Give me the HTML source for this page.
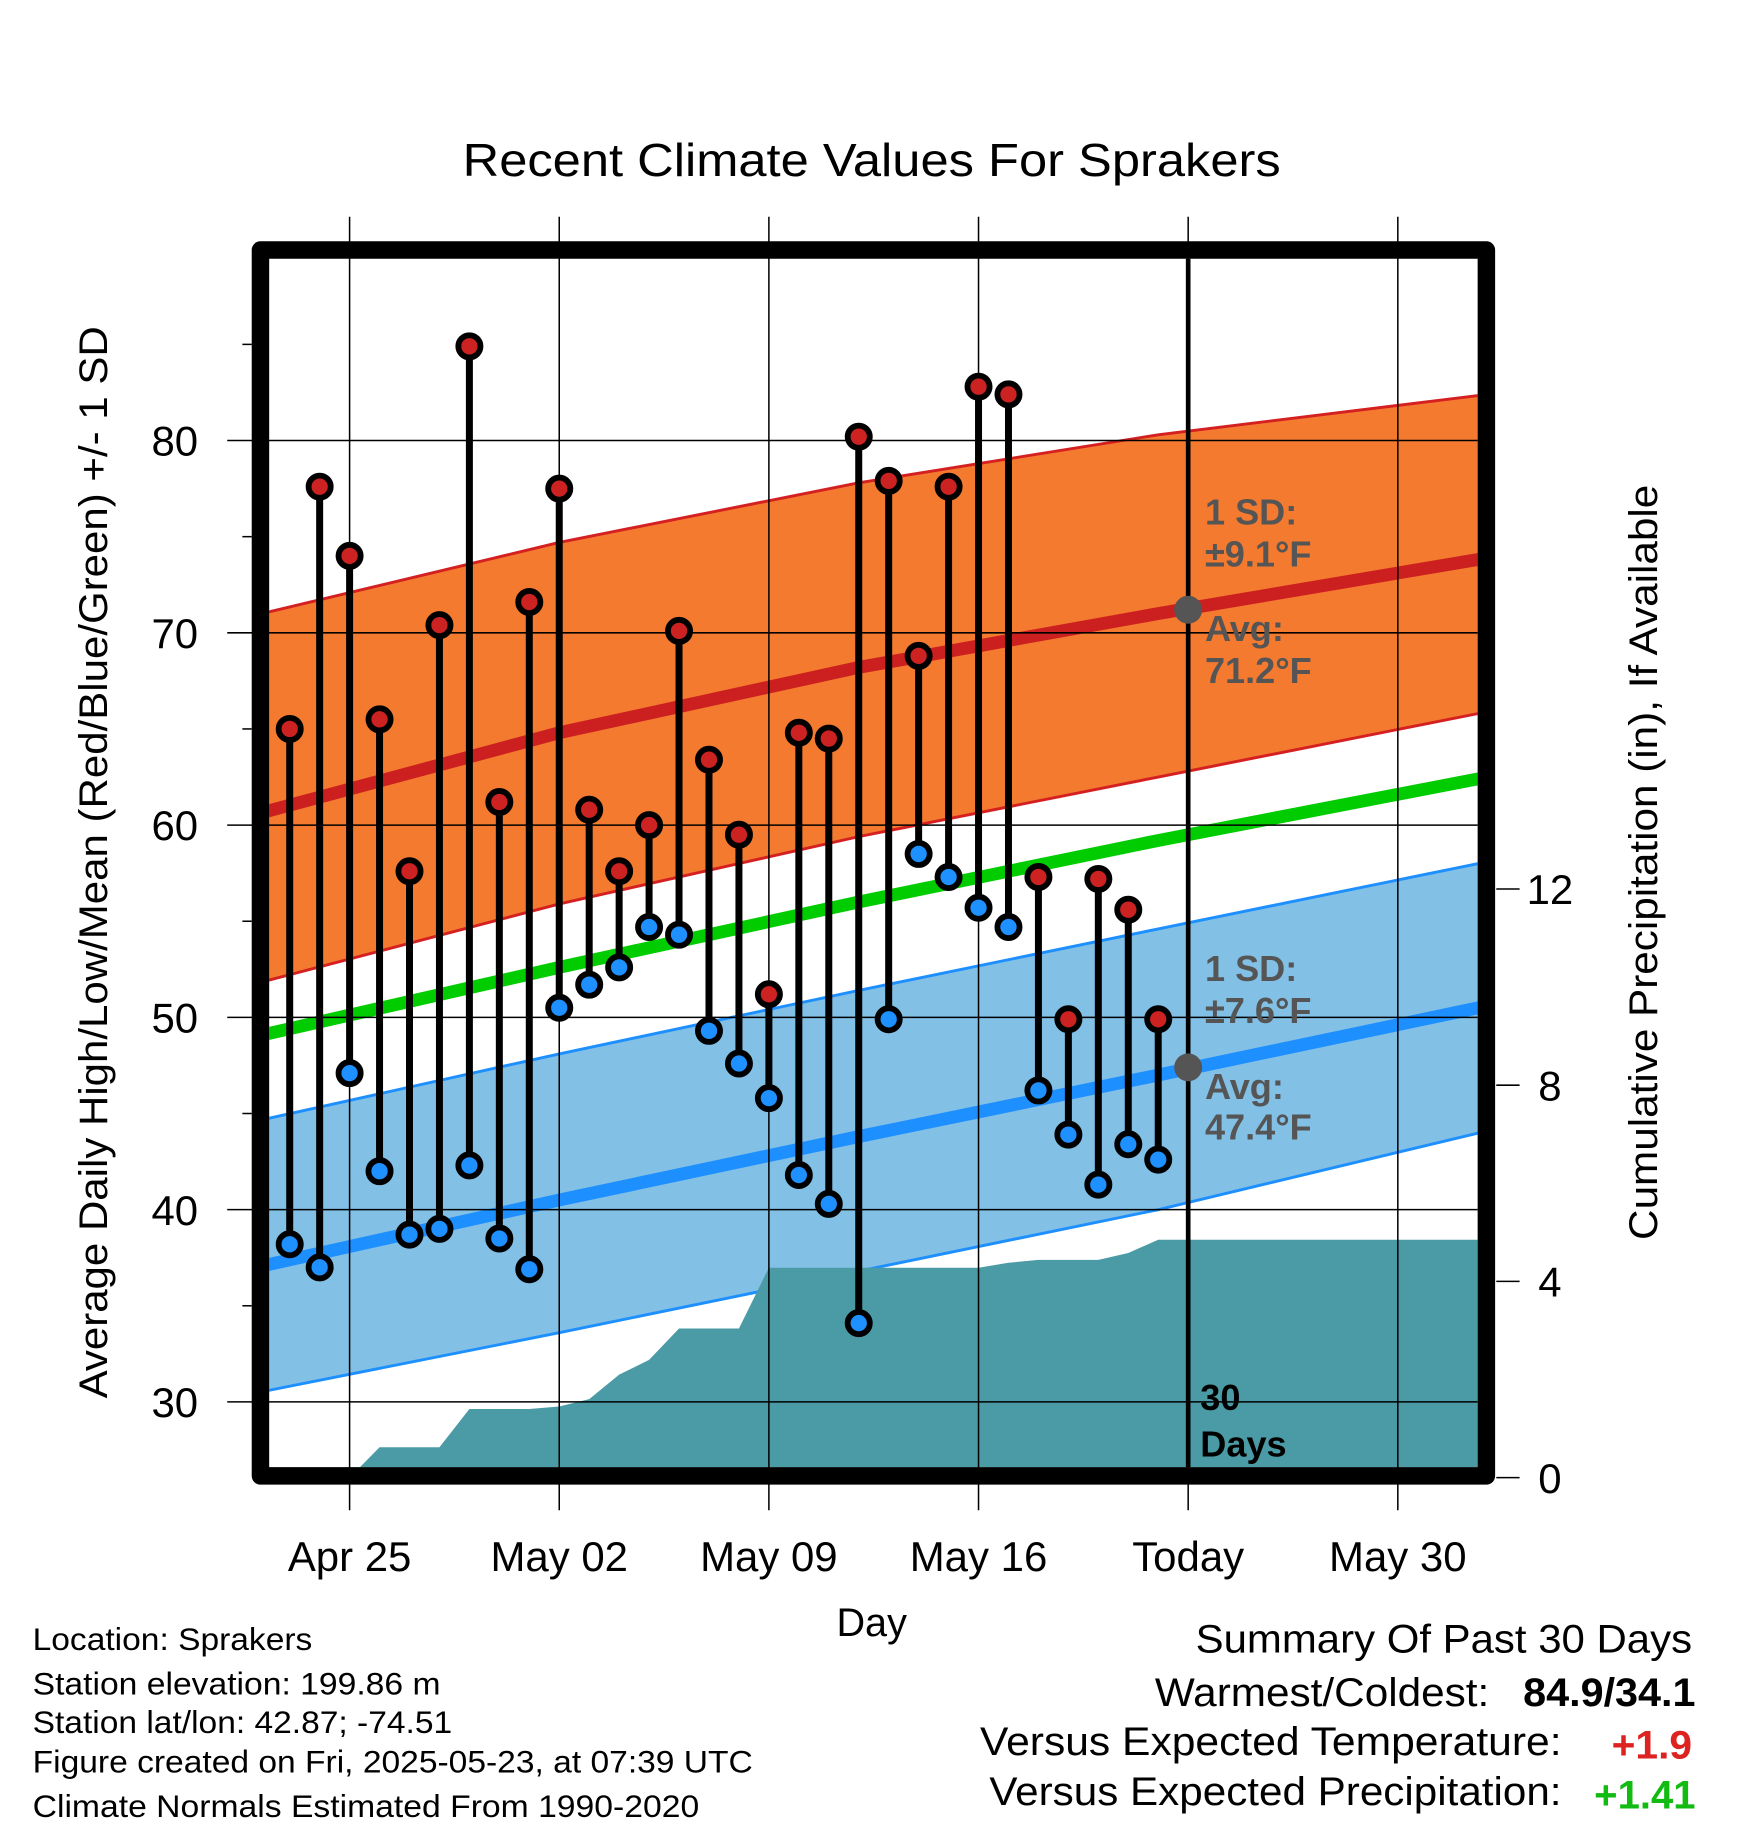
<!DOCTYPE html>
<html><head><meta charset="utf-8"><style>
html,body{margin:0;padding:0;background:#fff}
svg{display:block}
text{font-family:"Liberation Sans",sans-serif}
</style></head><body>
<svg id="chart" xmlns="http://www.w3.org/2000/svg" width="1748" height="1828" viewBox="0 0 1500 1568.6">
<rect width="1500" height="1568.6" fill="#fff"/>
<text x="748" y="151" text-anchor="middle" font-size="40" textLength="702" lengthAdjust="spacingAndGlyphs">Recent Climate Values For Sprakers</text>
<defs><clipPath id="plotclip"><rect x="231" y="222" width="1037" height="1037"/></clipPath></defs>
<g id="bands" clip-path="url(#plotclip)"></g>
<g id="grid"></g>
<g id="marks"></g>
<g id="axes"></g>
<g id="annot">
<text x="1034" y="450" font-size="31" font-weight="bold" fill="#555">1 SD:</text>
<text x="1034" y="486" font-size="31" font-weight="bold" fill="#555">±9.1°F</text>
<text x="1034" y="550" font-size="31" font-weight="bold" fill="#555">Avg:</text>
<text x="1034" y="586" font-size="31" font-weight="bold" fill="#555">71.2°F</text>
<text x="1034" y="842" font-size="31" font-weight="bold" fill="#555">1 SD:</text>
<text x="1034" y="878" font-size="31" font-weight="bold" fill="#555">±7.6°F</text>
<text x="1034" y="943" font-size="31" font-weight="bold" fill="#555">Avg:</text>
<text x="1034" y="978" font-size="31" font-weight="bold" fill="#555">47.4°F</text>
<text x="1030" y="1210" font-size="31" font-weight="bold">30</text>
<text x="1030" y="1250" font-size="31" font-weight="bold">Days</text>
</g>
<text transform="translate(92,740) rotate(-90)" text-anchor="middle" font-size="34" textLength="920" lengthAdjust="spacingAndGlyphs">Average Daily High/Low/Mean (Red/Blue/Green) +/- 1 SD</text>
<text transform="translate(1422,740) rotate(-90)" text-anchor="middle" font-size="34" textLength="648" lengthAdjust="spacingAndGlyphs">Cumulative Precipitation (in), If Available</text>
<text x="748" y="1404" text-anchor="middle" font-size="34">Day</text>
<g font-size="27">
<text x="28" y="1416" textLength="240" lengthAdjust="spacingAndGlyphs">Location: Sprakers</text>
<text x="28" y="1454" textLength="350" lengthAdjust="spacingAndGlyphs">Station elevation: 199.86 m</text>
<text x="28" y="1487" textLength="360" lengthAdjust="spacingAndGlyphs">Station lat/lon: 42.87; -74.51</text>
<text x="28" y="1521" textLength="618" lengthAdjust="spacingAndGlyphs">Figure created on Fri, 2025-05-23, at 07:39 UTC</text>
<text x="28" y="1559" textLength="572" lengthAdjust="spacingAndGlyphs">Climate Normals Estimated From 1990-2020</text>
</g>
<g font-size="34">
<text x="1026" y="1418" textLength="426" lengthAdjust="spacingAndGlyphs">Summary Of Past 30 Days</text>
<text x="991" y="1464" textLength="287" lengthAdjust="spacingAndGlyphs">Warmest/Coldest:</text>
<text x="1307" y="1464" font-weight="bold" textLength="148" lengthAdjust="spacingAndGlyphs">84.9/34.1</text>
<text x="841" y="1506" textLength="499" lengthAdjust="spacingAndGlyphs">Versus Expected Temperature:</text>
<text x="1383" y="1509" font-weight="bold" fill="#d22" textLength="69" lengthAdjust="spacingAndGlyphs">+1.9</text>
<text x="849" y="1549" textLength="491" lengthAdjust="spacingAndGlyphs">Versus Expected Precipitation:</text>
<text x="1368" y="1552" font-weight="bold" fill="#1b1" textLength="87" lengthAdjust="spacingAndGlyphs">+1.41</text>
</g>
</svg>
<script>
// data (day offsets from Apr 22)
const highs=[65.0,77.6,74.0,65.5,57.6,70.4,84.9,61.2,71.6,77.5,60.8,57.6,60.0,70.1,63.4,59.5,51.2,64.8,64.5,80.2,77.9,68.8,77.6,82.8,82.4,57.3,49.9,57.2,55.6,49.9];
const lows=[38.2,37.0,47.1,42.0,38.7,39.0,42.3,38.5,36.9,50.5,51.7,52.6,54.7,54.3,49.3,47.6,45.8,41.8,40.3,34.1,49.9,58.5,57.3,55.7,54.7,46.2,43.9,41.3,43.4,42.6];
const precip=[0,0,0,0.62,0.62,0.62,1.4,1.4,1.4,1.45,1.6,2.1,2.4,3.04,3.04,3.04,4.28,4.28,4.28,4.28,4.28,4.28,4.28,4.28,4.38,4.44,4.44,4.44,4.58,4.85];
const normDays=[-1,10,20,30,41];
const highAvg=[60.2,64.8,68.2,71.0,73.9];
const highUp=[70.6,74.7,77.8,80.3,82.4];
const highLo=[51.4,55.9,59.4,62.5,65.9];
const meanAvg=[48.7,52.6,56.0,59.2,62.5];
const lowAvg=[36.7,40.5,43.8,47.0,50.6];
const lowUp=[44.3,48.1,51.4,54.6,58.1];
const lowLo=[30.2,33.6,36.8,40.0,44.1];
const tempTicks=[30,40,50,60,70,80];
const precipTicks=[0,4,8,12];
const xTickDays=[3,10,17,24,31,38];
const xTickLabels=["Apr 25","May 02","May 09","May 16","Today","May 30"];
const todayDay=31;

const NS="http://www.w3.org/2000/svg";
const X=d=>222.9+d*25.7;
const Y=t=>378+(80-t)*16.5;
const P=p=>1268-p*42.1;
function mk(parent,tag,attrs){const e=document.createElementNS(NS,tag);for(const k in attrs)e.setAttribute(k,attrs[k]);document.getElementById(parent).appendChild(e);return e;}
function line(arr){return normDays.map((d,i)=>X(d)+","+Y(arr[i])).join(" ");}
function band(up,lo){return line(up)+" "+normDays.map((d,i)=>X(d)+","+Y(lo[i])).reverse().join(" ");}

let e;
e=mk("bands","polygon",{points:band(highUp,highLo),fill:"#F47A2F"});


e=mk("bands","polyline",{points:line(highUp),fill:"none",stroke:"#D42020","stroke-width":2.5});


e=mk("bands","polyline",{points:line(highLo),fill:"none",stroke:"#D42020","stroke-width":2.5});


e=mk("bands","polygon",{points:band(lowUp,lowLo),fill:"#82C0E6"});


e=mk("bands","polyline",{points:line(lowUp),fill:"none",stroke:"#1E8FFF","stroke-width":2.5});


e=mk("bands","polyline",{points:line(lowLo),fill:"none",stroke:"#1E8FFF","stroke-width":2.5});


e=mk("bands","polyline",{points:line(highAvg),fill:"none",stroke:"#CC2020","stroke-width":11});


e=mk("bands","polyline",{points:line(meanAvg),fill:"none",stroke:"#00CC00","stroke-width":11});


e=mk("bands","polyline",{points:line(lowAvg),fill:"none",stroke:"#1E8FFF","stroke-width":11});


// precip area
let pts=[X(3)+","+P(0)];
precip.forEach((p,i)=>{pts.push(X(i+1)+","+P(p));});
pts.push("1268,"+P(precip[precip.length-1]));pts.push("1268,1268");pts.push(X(3)+",1268");
e=mk("bands","polygon",{points:pts.join(" "),fill:"#4A9BA5"});



// grid
tempTicks.forEach(t=>{
 e=mk("grid","line",{x1:195,x2:1268,y1:Y(t),y2:Y(t),stroke:"#000","stroke-width":1.3});
 
 
 e=mk("axes","text",{x:170,y:Y(t)+13,"text-anchor":"end","font-size":36});
 e.textContent=t;
 
 
});
for(let t=35;t<=90;t+=5){if(t%10===0)continue;
 e=mk("grid","line",{x1:208,x2:216,y1:Y(t),y2:Y(t),stroke:"#000","stroke-width":1.3});
 
 }
xTickDays.forEach((d,i)=>{
 e=mk("grid","line",{x1:X(d),x2:X(d),y1:186,y2:1296,stroke:"#000","stroke-width":1.3});
 
 
 e=mk("axes","text",{x:X(d),y:1348,"text-anchor":"middle","font-size":36});
 e.textContent=xTickLabels[i];
 
 
});
precipTicks.forEach(p=>{
 e=mk("axes","line",{x1:1284,x2:1304,y1:P(p),y2:P(p),stroke:"#000","stroke-width":1.3});
 
 
 e=mk("axes","text",{x:1330,y:P(p)+13,"text-anchor":"middle","font-size":36});
 e.textContent=p;
 
 
});
// today line
e=mk("grid","line",{x1:X(todayDay),x2:X(todayDay),y1:222,y2:1259,stroke:"#000","stroke-width":4});


e=mk("grid","circle",{cx:X(todayDay),cy:Y(71.2),r:12,fill:"#555"});


e=mk("grid","circle",{cx:X(todayDay),cy:Y(47.4),r:12,fill:"#555"});


// frame
e=mk("axes","rect",{x:223.5,y:214.5,width:1052,height:1052,fill:"none",stroke:"#000","stroke-width":15,"stroke-linejoin":"round"});



// marks
highs.forEach((h,i)=>{
 const x=X(i+1);
 e=mk("marks","line",{x1:x,x2:x,y1:Y(h),y2:Y(lows[i]),stroke:"#000","stroke-width":6});
 
 
 e=mk("marks","circle",{cx:x,cy:Y(h),r:9.5,fill:"#CC2222",stroke:"#000","stroke-width":5});
 
 
 e=mk("marks","circle",{cx:x,cy:Y(lows[i]),r:9.5,fill:"#1E90FF",stroke:"#000","stroke-width":5});
 
 
});
</script>
</body></html>
